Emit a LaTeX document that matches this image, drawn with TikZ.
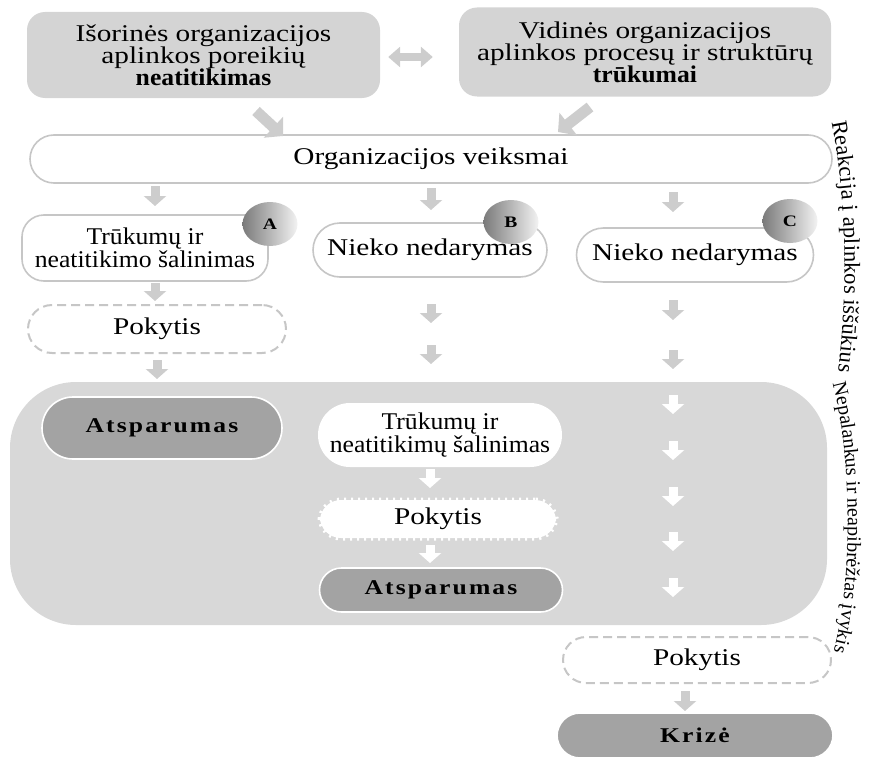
\documentclass[tikz,border=0pt]{standalone}
\usepackage{fontspec}
\setmainfont{Liberation Serif}[FakeStretch=1.22]
\newfontfamily\narrowfont{Liberation Serif}[FakeStretch=1.07]
\newfontfamily\vfont{Liberation Serif}
\usetikzlibrary{arrows.meta,shapes.geometric,decorations.text,calc}

\definecolor{topgray}{HTML}{D4D4D4}
\definecolor{regiongray}{HTML}{D8D8D8}
\definecolor{darkfill}{HTML}{A3A3A3}
\definecolor{arrowgray}{HTML}{CDCDCD}
\definecolor{linegray}{HTML}{C6C6C6}

\newcommand{\txt}{\fontsize{24}{22}\selectfont}
\newcommand{\ntxt}{\narrowfont\fontsize{24}{22.5}\selectfont}
\newcommand{\btxt}{\fontsize{21}{21}\selectfont\bfseries\addfontfeature{LetterSpace=10}}

\tikzset{
  every node/.style={inner sep=0pt, align=center},
  graybox/.style={fill=topgray, rounded corners=18pt, font=\txt},
  whitebox/.style={fill=white, draw=linegray, line width=1.6pt, font=\txt},
  dashbox/.style={fill=white, draw=linegray, line width=2pt, dash pattern=on 9pt off 5pt, font=\txt},
  darkbox/.style={fill=darkfill, draw=white, line width=1.6pt, font=\btxt},
  badge/.style={ellipse, minimum width=55pt, minimum height=44pt,
    left color=black!52, right color=white!95!black, shading angle=90,
    font=\fontsize{16}{16}\selectfont\bfseries},
  barrow/.style={draw=arrowgray, line width=9pt, -{Triangle[width=22pt,length=10pt]}},
  warrow/.style={barrow, draw=white},
  vtext/.style={decorate, decoration={text along path, text align=center}}
}

\begin{document}
\begin{tikzpicture}[x=1pt,y=-1pt]
\useasboundingbox (0,0) rectangle (888,760);

% outer region of the adverse event
\node[fill=regiongray, rounded corners=66pt, minimum width=817pt, minimum height=243pt] (region) at (418.5,503.5) {};

% top level
\node[graybox, minimum width=353pt, minimum height=86pt] (ext) at (203.5,55)
  {Išorinės organizacijos\\aplinkos poreikių\\{\narrowfont\bfseries neatitikimas}};
\node[graybox, minimum width=372pt, minimum height=89pt] (int) at (645,52)
  {Vidinės organizacijos\\aplinkos procesų ir struktūrų\\{\narrowfont\bfseries trūkumai}};
\node[whitebox, rounded corners=24pt, minimum width=802pt, minimum height=48pt] (act) at (431,159)
  {Organizacijos veiksmai};

% three reactions
\node[whitebox, rounded corners=22pt, minimum width=246pt, minimum height=66pt, font=\ntxt] (ra) at (145,248)
  {Trūkumų ir\\neatitikimo šalinimas};
\node[whitebox, rounded corners=27pt, minimum width=234pt, minimum height=54pt] (rb) at (430,250)
  {Nieko nedarymas};
\node[whitebox, rounded corners=27pt, minimum width=237pt, minimum height=54pt] (rc) at (695,255)
  {Nieko nedarymas};
\node[badge] (ba) at (270,224) {A};
\node[badge] (bb) at (511,222) {B};
\node[badge] (bc) at (790,221) {C};

% branch A
\node[dashbox, rounded corners=24pt, minimum width=258pt, minimum height=48pt] (pa) at (157,329) {Pokytis};
\node[darkbox, rounded corners=31pt, minimum width=240pt, minimum height=62pt] (sa) at (162,428) {Atsparumas};

% branch B
\node[fill=white, rounded corners=32pt, minimum width=244pt, minimum height=64pt, font=\ntxt] (fb) at (440,435)
  {Trūkumų ir\\neatitikimų šalinimas};
\node[fill=white, draw=white, line width=5pt, dash pattern=on 2pt off 5pt, rounded corners=21pt,
  minimum width=236pt, minimum height=38pt, font=\txt] (pb) at (438,519) {Pokytis};
\node[darkbox, rounded corners=22pt, minimum width=243pt, minimum height=44pt] (sb) at (441,590) {Atsparumas};

% branch C
\node[dashbox, rounded corners=23pt, minimum width=268pt, minimum height=46pt] (pc) at (697,660) {Pokytis};
\node[darkbox, rounded corners=23pt, minimum width=276pt, minimum height=45pt] (kc) at (695,735.5) {Krizė};

% arrows between the upper boxes
\draw[draw=arrowgray, line width=8pt, {Triangle[width=20pt,length=12pt]}-{Triangle[width=20pt,length=12pt]}]
  ($(ext.east)+(8,2)$) -- ($(int.west)+(-26,5)$);
\draw[barrow, line width=11pt, -{Triangle[width=28pt,length=13pt]}] (256,111) -- (283,136);
\draw[barrow, line width=11pt, -{Triangle[width=28pt,length=13pt]}] (590,107) -- (558,132);

% column A
\draw[barrow] (155,186) -- (155,206);
\draw[barrow] (155,283) -- (155,301);
\draw[barrow] (157,360) -- (157,379);

% column B
\draw[barrow] (431,188) -- (431,210);
\draw[barrow] (431,304) -- (431,323);
\draw[barrow] (431,345) -- (431,364);
\draw[warrow] (430,469) -- (430,488);
\draw[warrow] (430,545) -- (430,563);

% column C
\draw[barrow] (673,192) -- (673,212);
\draw[barrow] (673,300) -- (673,320);
\draw[barrow] (673,350) -- (673,369);
\foreach \y in {395,441,487,532,578}
  \draw[warrow] (673,\y) -- (673,\y+19);
\draw[barrow] (685,691) -- (685,711);

% side captions set along curves
\path[vtext, decoration={text={|\vfont\fontsize{22.5}{22}\selectfont|Reakcija į aplinkos iššūkius}}]
  (830,114) .. controls (848,200) and (848,300) .. (837,380);
\path[vtext, decoration={text={|\vfont\fontsize{20}{20}\selectfont|Nepalankus ir neapibrėžtas įvykis}}]
  (833,385) .. controls (853,460) and (852,585) .. (834,650);
\end{tikzpicture}
\end{document}
